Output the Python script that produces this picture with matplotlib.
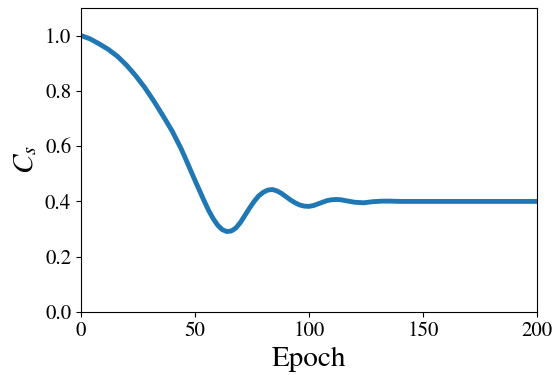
import matplotlib
matplotlib.use("Agg")
import matplotlib.pyplot as plt

# C_s value, per epoch
epochs = [0, 4, 8, 12, 16, 20, 24, 28, 32, 36, 40, 44, 46, 48, 50, 52, 54,
          56, 58, 60, 62, 64, 66, 68, 70, 72, 74, 76, 78, 80, 82, 84, 86,
          88, 90, 92, 94, 96, 98, 100, 102, 104, 106, 108, 110, 112, 114,
          116, 118, 120, 124, 128, 132, 136, 140, 150, 160, 170, 180, 190, 200]
cs = [1.000, 0.988, 0.970, 0.950, 0.925, 0.893, 0.855, 0.812, 0.763, 0.710,
      0.655, 0.590, 0.553, 0.515, 0.477, 0.440, 0.403, 0.368, 0.338, 0.314,
      0.298, 0.291, 0.293, 0.304, 0.324, 0.350, 0.376, 0.400, 0.420, 0.433,
      0.441, 0.443, 0.438, 0.429, 0.417, 0.405, 0.395, 0.387, 0.383, 0.382,
      0.385, 0.391, 0.397, 0.403, 0.406, 0.407, 0.406, 0.403, 0.400, 0.397,
      0.395, 0.399, 0.401, 0.401, 0.400, 0.400, 0.400, 0.400, 0.400, 0.400,
      0.400]

plt.rcParams['font.family'] = ['STIXGeneral', 'Liberation Serif', 'DejaVu Serif']
plt.rcParams['mathtext.fontset'] = 'stix'

fig, ax = plt.subplots(figsize=(5.54, 3.75), dpi=100)
fig.subplots_adjust(left=0.146, right=0.969, top=0.979, bottom=0.168)

ax.plot(epochs, cs, color='#1f77b4', linewidth=3.5)
ax.set_xlim(0, 200)
ax.set_ylim(0, 1.1)
ax.set_xticks([0, 50, 100, 150, 200])
ax.set_yticks([0.0, 0.2, 0.4, 0.6, 0.8, 1.0])
ax.tick_params(labelsize=15)
ax.set_xlabel("Epoch", fontsize=21)
ax.set_ylabel("$C_s$", fontsize=21)

fig.savefig("out.png", dpi=100)
